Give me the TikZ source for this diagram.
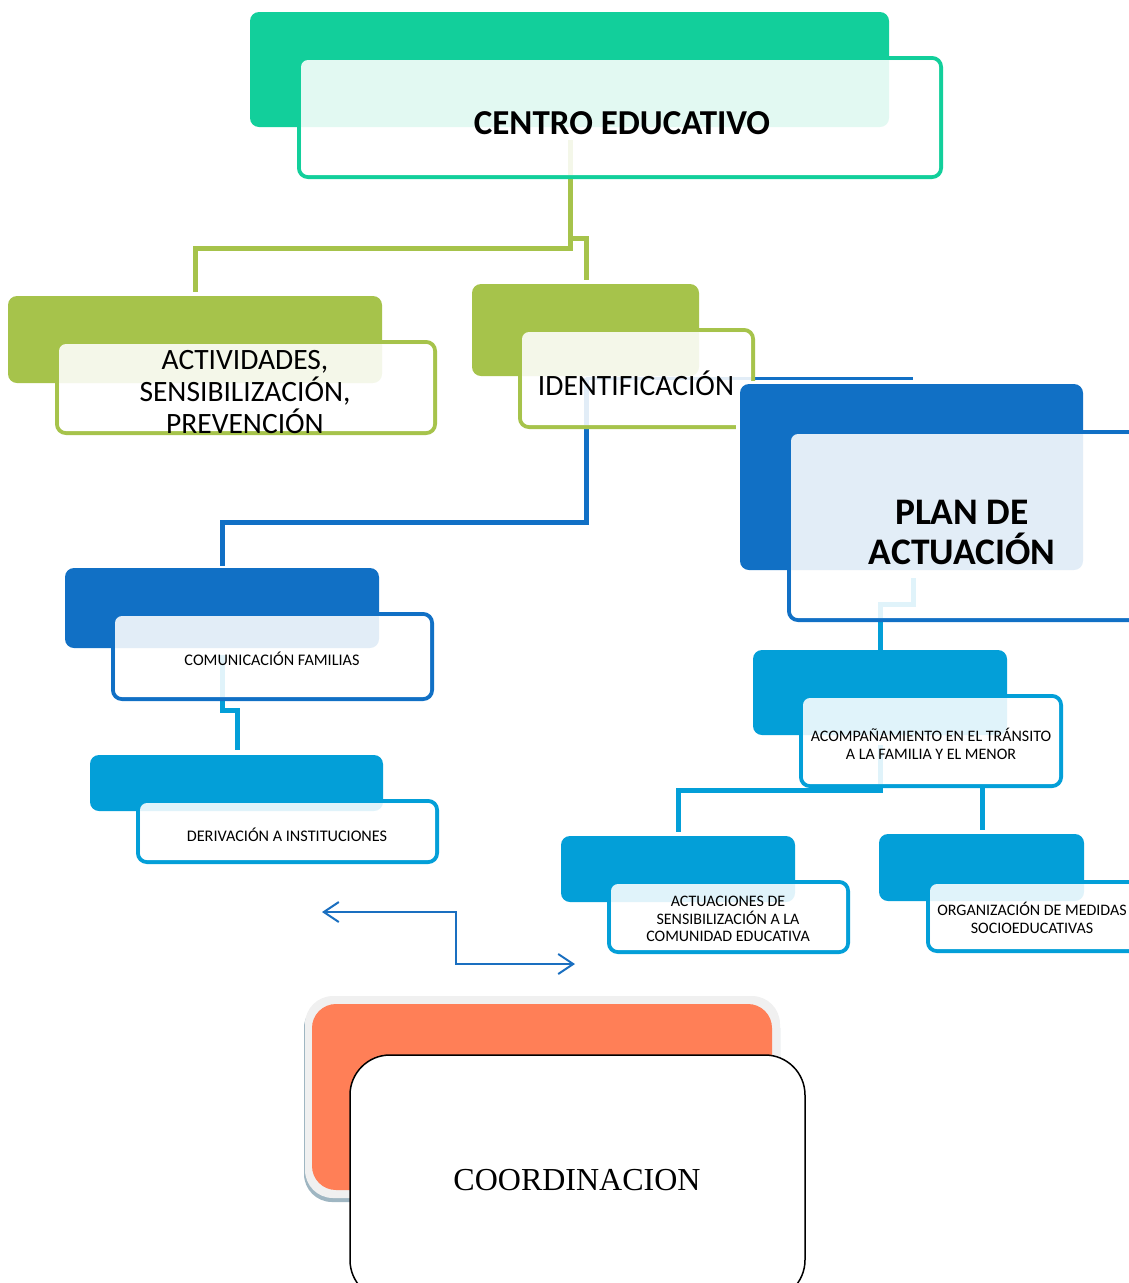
\documentclass[tikz,border=0pt]{standalone}
\usepackage{fontspec}
\setmainfont{Carlito}
\newfontfamily\timesf{Liberation Serif}
\usetikzlibrary{calc,arrows.meta}
\definecolor{teal1}{HTML}{12CF9B}
\definecolor{green1}{HTML}{A6C34B}
\definecolor{dblue}{HTML}{1170C5}
\definecolor{lblue}{HTML}{039FD8}
\definecolor{orange1}{HTML}{FF7F57}
\definecolor{arrowblue}{HTML}{1A6FC0}
\definecolor{shadowc}{HTML}{9FB6C2}
\newcommand{\dualbox}[9]{%
  \draw[line width=4pt,#1,rounded corners=9pt] (#6,#7) rectangle (#8,#9);
  \fill[#1,rounded corners=9pt] (#2,#3) rectangle (#4,#5);
  \fill[white,opacity=0.88,rounded corners=7pt] ($(#6,#7)+(2,2)$) rectangle ($(#8,#9)+(-2,-2)$);
}
\tikzset{
  conn/.style={line width=5pt},
  lbl/.style={align=center,inner sep=0pt,text=black},
}
\begin{document}
\begin{tikzpicture}[x=1pt,y=-1pt]
\useasboundingbox (0,0) rectangle (1129,1283);
% ---------- connector points ----------
\coordinate (c0) at (570,140);
\coordinate (c1) at (570,248);
\coordinate (c2) at (195,248);
\coordinate (c3) at (195,292);
\coordinate (c4) at (570,238);
\coordinate (c5) at (586,238);
\coordinate (c6) at (586,280);
\coordinate (i0) at (586,378);
\coordinate (i1) at (913,378);
\coordinate (i2) at (586,522);
\coordinate (i3) at (222,522);
\coordinate (i4) at (222,566);
\coordinate (p0) at (913,578);
\coordinate (p1) at (913,604);
\coordinate (p2) at (880,604);
\coordinate (p3) at (880,650);
\coordinate (m0) at (222,655);
\coordinate (m1) at (222,710);
\coordinate (m2) at (237,710);
\coordinate (m3) at (237,750);
\coordinate (a0) at (880,745);
\coordinate (a1) at (880,790);
\coordinate (a2) at (678,790);
\coordinate (a3) at (678,832);
\coordinate (a4) at (982,785);
\coordinate (a5) at (982,830);
% ---------- connectors ----------
\draw[conn,green1] (c0) -- (c1) -- (c2) -- (c3);
\draw[conn,green1] (c4) -- (c5) -- (c6);
\draw[line width=3pt,dblue] (i0) -- (i1);
\draw[conn,dblue] (i0) -- (i2) -- (i3) -- (i4);
\draw[conn,lblue] (p0) -- (p1) -- (p2) -- (p3);
\draw[conn,lblue] (m0) -- (m1) -- (m2) -- (m3);
\draw[conn,lblue] (a0) -- (a1) -- (a2) -- (a3);
\draw[conn,lblue] (a4) -- (a5);
% ---------- boxes ----------
\dualbox{teal1}{250}{12}{889}{127}{299}{58}{941}{177}
\node[lbl,font=\fontsize{35}{40}\selectfont\bfseries] (ce) at (622,123) {CENTRO EDUCATIVO};

\dualbox{green1}{8}{296}{382}{383}{57}{342}{435}{433}
\node[lbl,font=\fontsize{29.5}{32}\selectfont] (act) at (245,392) {ACTIVIDADES,\\SENSIBILIZACIÓN,\\PREVENCIÓN};

\dualbox{green1}{472}{284}{699}{376}{520}{330}{753}{427}
\fill[white] (736,381) rectangle (760,434);
\node[lbl,font=\fontsize{29.5}{32}\selectfont] (ide) at (636,383) {IDENTIFICACIÓN};

\dualbox{dblue}{740}{384}{1083}{570}{789}{432}{1140}{620}
\node[lbl,font=\fontsize{37.5}{40}\selectfont\bfseries] (plan) at (962,532) {PLAN DE\\ACTUACIÓN};

\dualbox{dblue}{65}{568}{379}{648}{113}{614}{432}{699}
\node[lbl,font=\fontsize{16.2}{18}\selectfont] (com) at (272,659) {COMUNICACIÓN FAMILIAS};

\dualbox{lblue}{90}{755}{383}{811}{138}{801}{437}{862}
\node[lbl,font=\fontsize{16.2}{18}\selectfont] (der) at (287,835) {DERIVACIÓN A INSTITUCIONES};

\dualbox{lblue}{753}{650}{1007}{735}{801}{696}{1061}{786}
\node[lbl,font=\fontsize{16}{18}\selectfont] (aco) at (931,744) {ACOMPAÑAMIENTO EN EL TRÁNSITO\\A LA FAMILIA Y EL MENOR};

\dualbox{lblue}{561}{836}{795}{902}{609}{882}{848}{952}
\node[lbl,font=\fontsize{16}{17.5}\selectfont] (actu) at (728,919) {ACTUACIONES DE\\SENSIBILIZACIÓN A LA\\COMUNIDAD EDUCATIVA};

\dualbox{lblue}{879}{834}{1084}{901}{928}{882}{1140}{951}
\node[lbl,font=\fontsize{16}{17.5}\selectfont] (org) at (1032,918) {ORGANIZACIÓN DE MEDIDAS\\SOCIOEDUCATIVAS};

% ---------- arrows ----------
\coordinate (r0) at (322,912);
\coordinate (r1) at (456,912);
\coordinate (r2) at (456,964);
\coordinate (r3) at (575,964);
\draw[line width=2pt,arrowblue,{Straight Barb[length=15pt,width=20pt,line width=2pt]}-{Straight Barb[length=15pt,width=20pt,line width=2pt]}] (r0) -- (r1) -- (r2) -- (r3);

% ---------- coordinacion ----------
\fill[shadowc,rounded corners=28pt] (304,1000) rectangle (780,1202);
\fill[black!6,rounded corners=28pt] (305,996) rectangle (780,1198);
\fill[orange1,rounded corners=24pt] (312,1004) rectangle (772,1190);
\draw[line width=1.5pt,black,fill=white,rounded corners=40pt] (350,1055) rectangle (805,1300);
\node[lbl,font=\timesf\fontsize{32}{36}\selectfont] (coo) at (577,1180) {COORDINACION};
\end{tikzpicture}
\end{document}
